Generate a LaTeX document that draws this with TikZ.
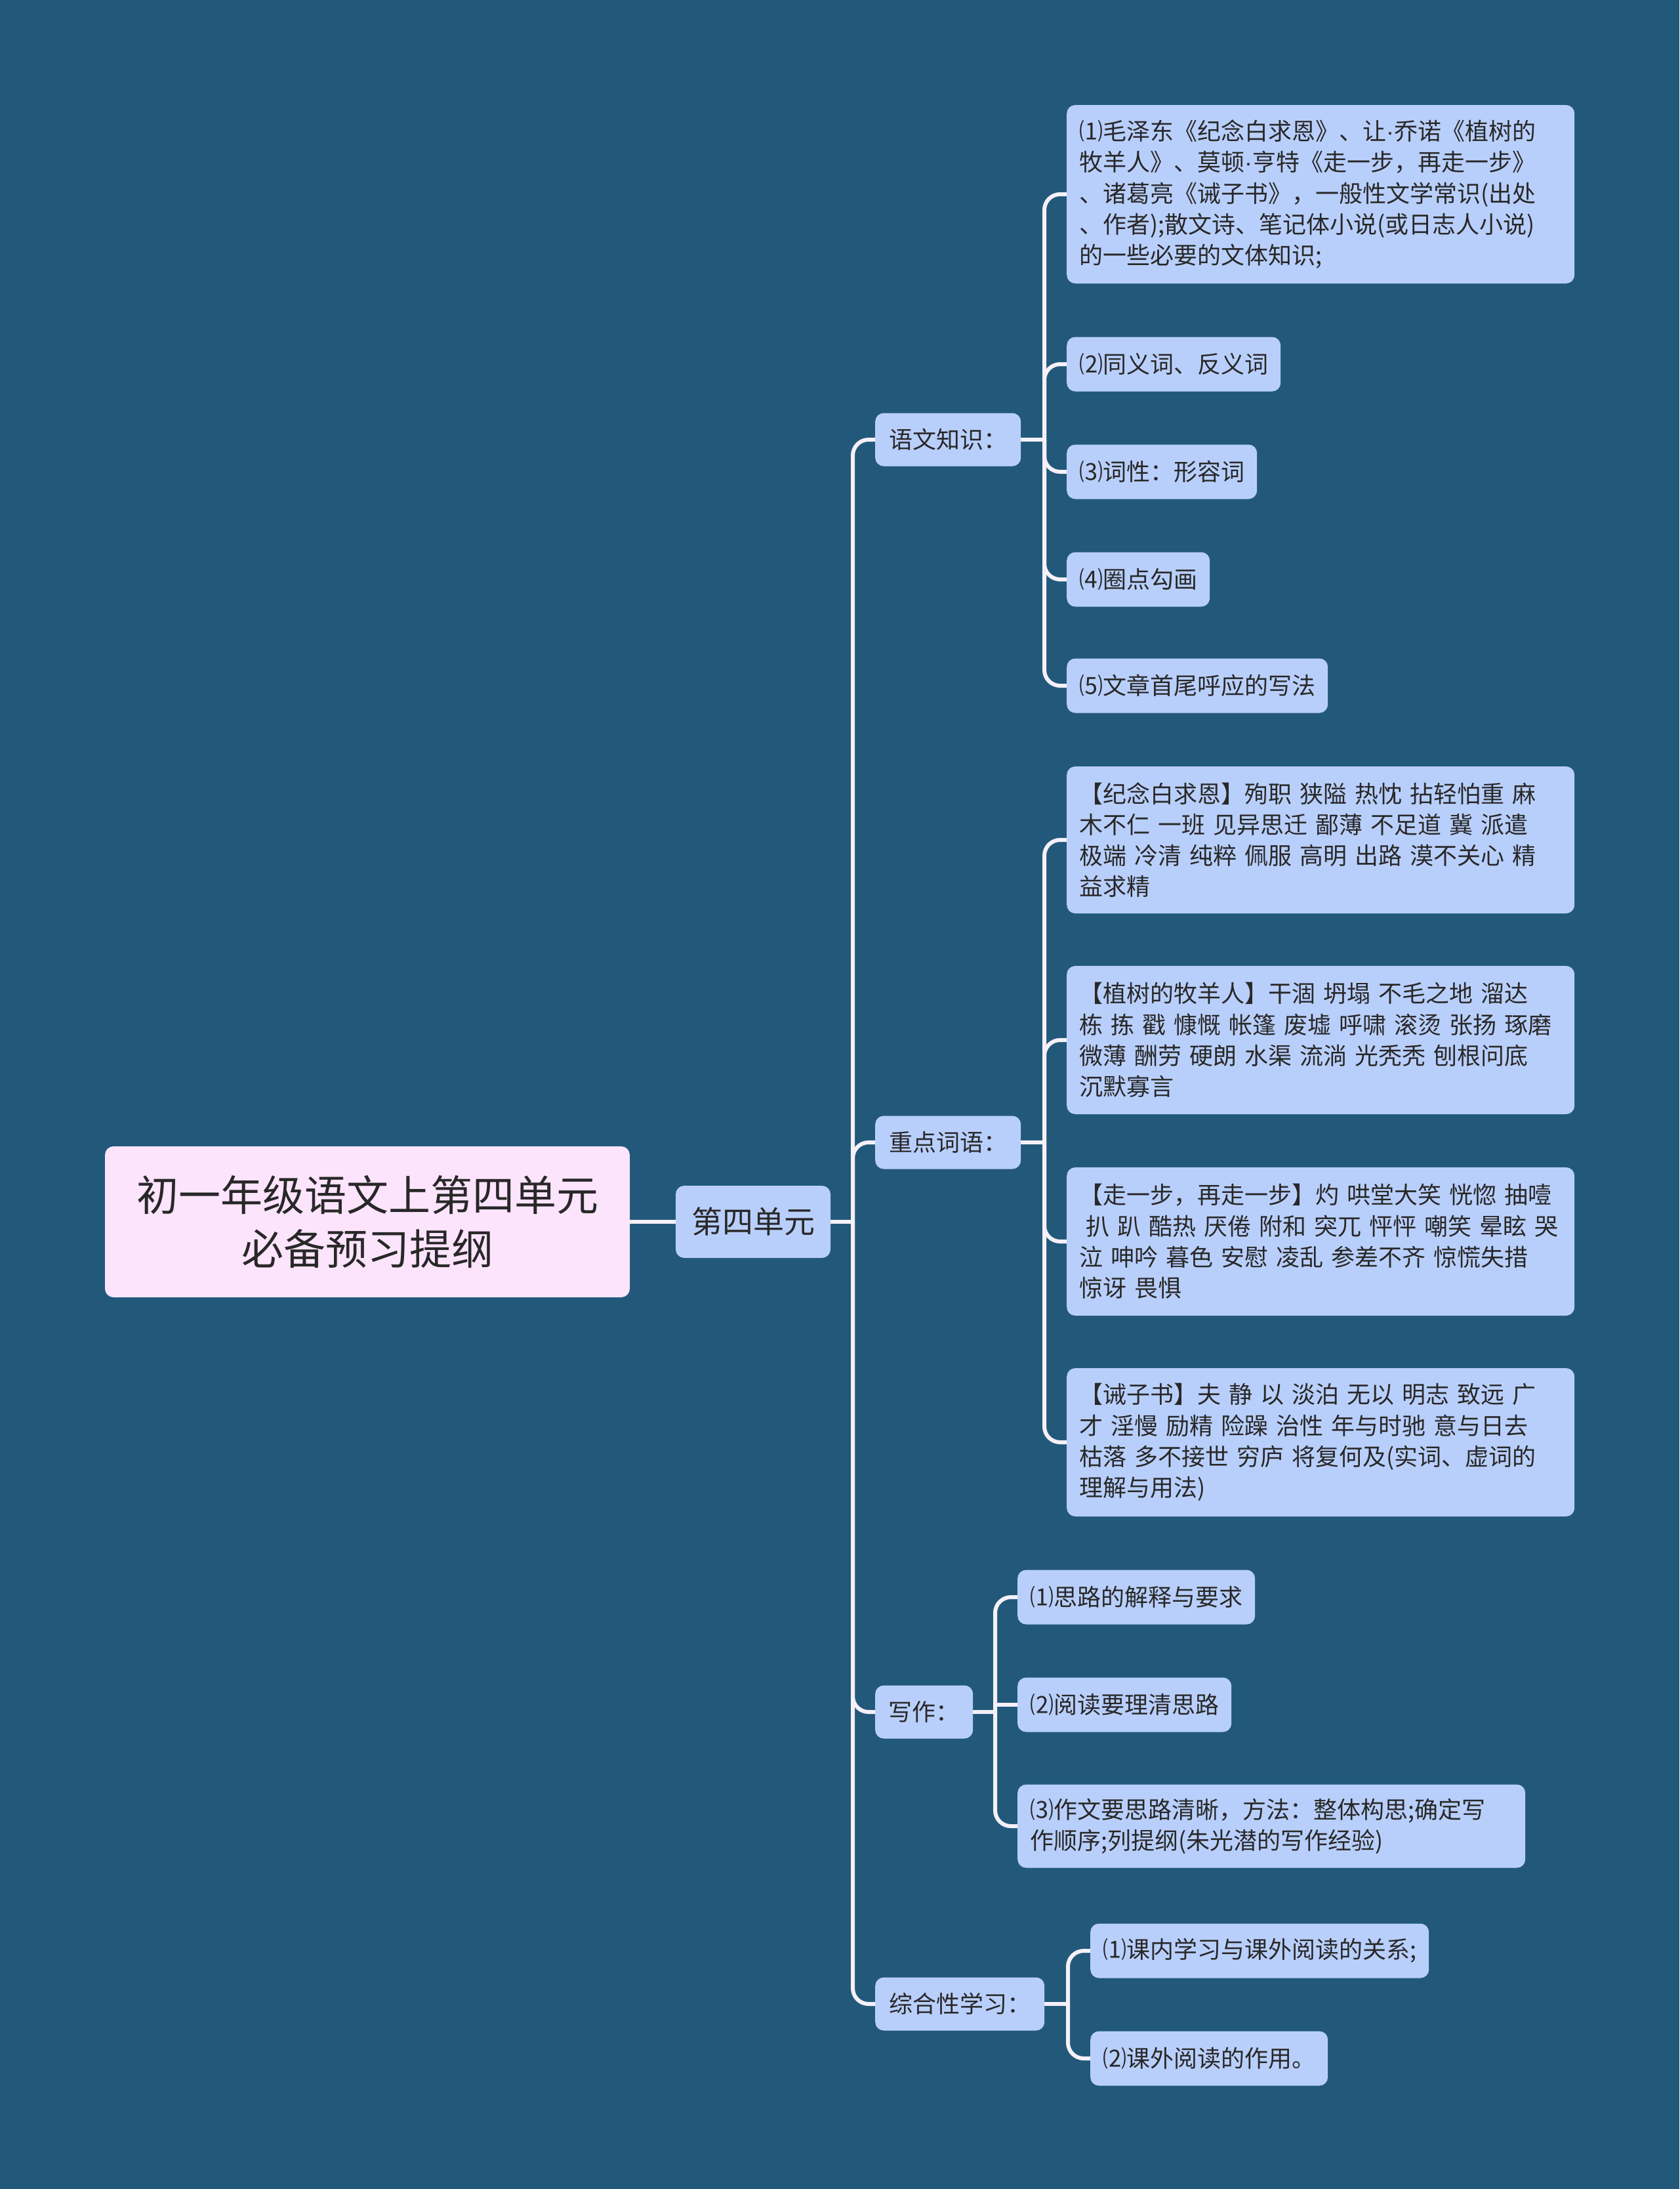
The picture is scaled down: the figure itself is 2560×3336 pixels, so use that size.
\documentclass[tikz,border=0pt]{standalone}
\usepackage{fontspec}
\setmainfont{Noto Sans CJK SC}
\newfontfamily\latinf{Liberation Sans}
\newcommand{\mdot}{{\latinf ·}}
\definecolor{bgc}{RGB}{34,89,123}
\definecolor{leafc}{RGB}{185,207,251}
\definecolor{rootc}{RGB}{253,228,253}
\definecolor{linec}{RGB}{246,240,248}
\definecolor{txtc}{RGB}{40,40,40}
\begin{document}
\begin{tikzpicture}[x=1pt,y=-1pt,
  box/.style={fill=leafc, rounded corners=13pt, text=txtc, inner xsep=19pt, inner ysep=0pt,
    align=left, font=\fontsize{36}{47.3}\selectfont, minimum height=83pt},
  leaf/.style={box, anchor=west},
  wide/.style={leaf, text width=736pt},
  mid/.style={box, anchor=west, align=center, inner xsep=0pt, minimum height=81pt},
  conn/.style={draw=linec, line width=6pt, rounded corners=24pt},
  sharp/.style={draw=linec, line width=6pt},
]
\fill[bgc] (0,0) rectangle (2560,3336);

% root and unit
\node[box, fill=rootc, minimum width=800pt, minimum height=230pt, align=center,
  font=\fontsize{64}{82}\selectfont, inner xsep=0pt] (root) at (560,1862) {初一年级语文上第四单元\\必备预习提纲};
\node[box, minimum width=236pt, minimum height=110pt, align=center,
  font=\fontsize{47}{55}\selectfont, inner xsep=0pt] (unit) at (1148,1862) {第四单元};

% level 2
\node[mid, minimum width=222pt] (yw) at (1334,670) {语文知识：};
\node[mid, minimum width=222pt] (zd) at (1334,1741) {重点词语：};
\node[mid, minimum width=149pt] (xz) at (1334,2609) {写作：};
\node[mid, minimum width=258pt] (zh) at (1334,3054) {综合性学习：};

% 语文知识 children
\node[wide, minimum height=272pt] (a1) at (1626,296) {⑴毛泽东《纪念白求恩》、让\mdot 乔诺《植树的\\牧羊人》、莫顿\mdot 亨特《走一步，再走一步》\\、诸葛亮《诫子书》，一般性文学常识(出处\\、作者);散文诗、笔记体小说(或日志人小说)\\的一些必要的文体知识;};
\node[leaf] (a2) at (1626,555) {⑵同义词、反义词};
\node[leaf] (a3) at (1626,719) {⑶词性：形容词};
\node[leaf] (a4) at (1626,883) {⑷圈点勾画};
\node[leaf] (a5) at (1626,1045) {⑸文章首尾呼应的写法};

% 重点词语 children
\node[wide, minimum height=224pt] (b1) at (1626,1280) {【纪念白求恩】殉职 狭隘 热忱 拈轻怕重 麻\\木不仁 一班 见异思迁 鄙薄 不足道 冀 派遣\\极端 冷清 纯粹 佩服 高明 出路 漠不关心 精\\益求精};
\node[wide, minimum height=226pt] (b2) at (1626,1585) {【植树的牧羊人】干涸 坍塌 不毛之地 溜达\\栋 拣 戳 慷慨 帐篷 废墟 呼啸 滚烫 张扬 琢磨\\微薄 酬劳 硬朗 水渠 流淌 光秃秃 刨根问底\\沉默寡言};
\node[wide, minimum height=226pt] (b3) at (1626,1892) {【走一步，再走一步】灼 哄堂大笑 恍惚 抽噎\\\hspace*{10pt}扒 趴 酷热 厌倦 附和 突兀 怦怦 嘲笑 晕眩 哭\\泣 呻吟 暮色 安慰 凌乱 参差不齐 惊慌失措\\惊讶 畏惧};
\node[wide, minimum height=226pt] (b4) at (1626,2198) {【诫子书】夫 静 以 淡泊 无以 明志 致远 广\\才 淫慢 励精 险躁 治性 年与时驰 意与日去\\枯落 多不接世 穷庐 将复何及(实词、虚词的\\理解与用法)};

% 写作 children
\node[leaf] (c1) at (1551,2434) {⑴思路的解释与要求};
\node[leaf] (c2) at (1551,2598) {⑵阅读要理清思路};
\node[wide, minimum height=127pt] (c3) at (1551,2783) {⑶作文要思路清晰，方法：整体构思;确定写\\作顺序;列提纲(朱光潜的写作经验)};

% 综合性学习 children
\node[leaf] (d1) at (1662,2973) {⑴课内学习与课外阅读的关系;};
\node[leaf] (d2) at (1662,3137) {⑵课外阅读的作用。};

% connectors
\draw[sharp] (root.east) -- (unit.west);
\coordinate (sp) at (1300,1862);
\draw[sharp] (unit.east) -- (sp);
\foreach \n in {yw,zd,xz,zh} \draw[conn] (sp) |- (\n.west);

\coordinate (ba) at (1592,670);
\draw[sharp] (yw.east) -- (ba);
\foreach \n in {a1,a2,a3,a4,a5} \draw[conn] (ba) |- (\n.west);

\coordinate (bb) at (1592,1741);
\draw[sharp] (zd.east) -- (bb);
\foreach \n in {b1,b2,b3,b4} \draw[conn] (bb) |- (\n.west);

\coordinate (bc) at (1517,2609);
\draw[sharp] (xz.east) -- (bc);
\foreach \n in {c1,c3} \draw[conn] (bc) |- (\n.west);
\draw[sharp] (bc) |- (c2.west);

\coordinate (bd) at (1628,3054);
\draw[sharp] (zh.east) -- (bd);
\foreach \n in {d1,d2} \draw[conn] (bd) |- (\n.west);
\end{tikzpicture}
\end{document}
